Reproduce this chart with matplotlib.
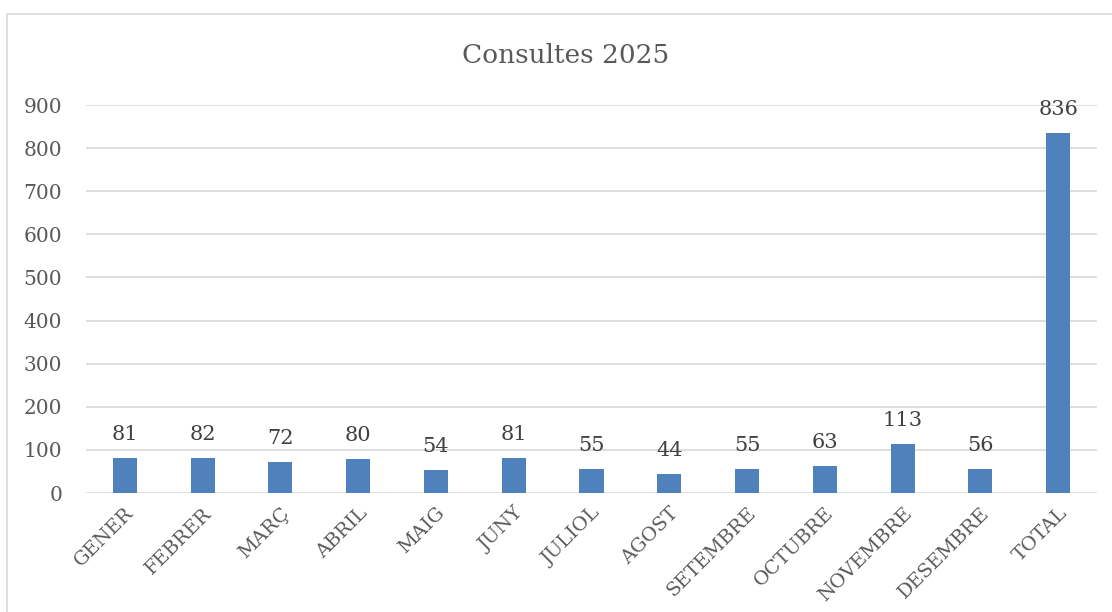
import matplotlib.pyplot as plt
from matplotlib.patches import Rectangle

# data
months = ['GENER', 'FEBRER', 'MARÇ', 'ABRIL', 'MAIG', 'JUNY', 'JULIOL', 'AGOST',
          'SETEMBRE', 'OCTUBRE', 'NOVEMBRE', 'DESEMBRE', 'TOTAL']
consultes = [81, 82, 72, 80, 54, 81, 55, 44, 55, 63, 113, 56, 836]
title = 'Consultes 2025'

bar_color = '#4f81bd'
text_color = '#595959'
grid_color = '#d9d9d9'

plt.rcParams['font.family'] = ['DejaVu Serif']

fig = plt.figure(figsize=(11.12, 6.12), dpi=100)
ax = fig.add_axes([0.0773, 0.1944, 0.9092, 0.634])

# chart border
fig.patches.append(Rectangle((7 / 1112, -0.01), 1.1, 1 - 14 / 612 + 0.01, transform=fig.transFigure,
                             fill=False, edgecolor='#d9d9d9', linewidth=1.2))

x = range(len(months))
bars = ax.bar(x, consultes, width=0.31, color=bar_color, zorder=3)

for xi, v in zip(x, consultes):
    ax.annotate(str(v), (xi, v), xytext=(0, 10), textcoords='offset points',
                ha='center', va='bottom', fontsize=15, color='#404040')

ax.set_xlim(-0.5, len(months) - 0.5)
ax.set_ylim(0, 900)
ax.set_yticks(range(0, 1000, 100))
ax.yaxis.grid(True, color=grid_color, linewidth=1.2, zorder=0)
ax.set_axisbelow(True)

for s in ['top', 'right', 'left', 'bottom']:
    ax.spines[s].set_visible(False)
ax.tick_params(axis='both', length=0, colors=text_color, labelsize=14.5)
ax.tick_params(axis='y', pad=17)
ax.set_xticks(list(x))
ax.set_xticklabels(months, rotation=45, ha='right', rotation_mode='anchor', fontsize=14)
ax.tick_params(axis='x', pad=8)

fig.text(0.509, 0.91, title, ha='center', va='center', fontsize=19, color=text_color)

fig.savefig('out.png', dpi=100)
